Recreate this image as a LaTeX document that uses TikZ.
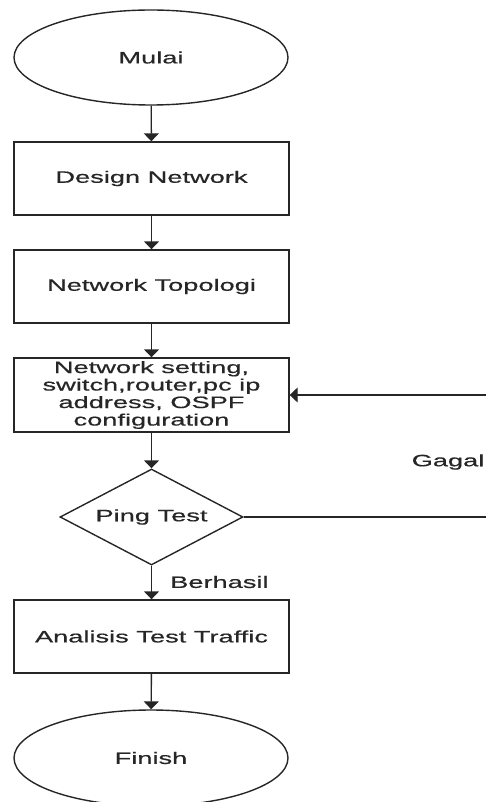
\documentclass[tikz,border=0pt]{standalone}
\usepackage{fontspec}
\setmainfont[FakeStretch=1.65,FakeBold=0.6]{Liberation Sans}
\usetikzlibrary{shapes.geometric,arrows.meta}
\begin{document}
\begin{tikzpicture}[x=1pt,y=1pt,
  base/.style={draw=black!85, line width=1.4pt, text=black!85, font=\fontsize{16.5}{17.5}\selectfont, inner sep=0pt, align=center},
  term/.style={base, ellipse, minimum width=274pt, minimum height=95pt},
  proc/.style={base, rectangle, minimum width=275pt, minimum height=73pt},
  dec/.style={base, diamond, aspect=1.9, minimum width=183pt, minimum height=96pt},
  conn/.style={draw=black!85, line width=1.4pt, -{Triangle[width=15pt,length=8pt]}},
  lbl/.style={text=black!85, font=\fontsize{16.5}{17.5}\selectfont, inner sep=0pt}]
\useasboundingbox (0,0) rectangle (485,-802);
\node[term] (mulai) at (151,-57.5) {Mulai};
\node[proc] (design) at (151.5,-178.5) {Design Network};
\node[proc] (topo) at (151.5,-286.5) {Network Topologi};
\node[proc, minimum height=74pt] (setting) at (151.5,-395) {Network setting,\\switch,router,pc ip\\address, OSPF\\configuration};
\node[dec] (ping) at (151.5,-517) {Ping Test};
\node[proc] (analisis) at (151.5,-636.5) {Analisis Test Traffic};
\node[term, minimum height=96pt] (finish) at (151,-758) {Finish};
\coordinate (c1) at (500,-517);
\coordinate (c2) at (500,-395);
\node[lbl] (gagal) at (448,-462) {Gagal};
\node[lbl, anchor=west] (berhasil) at (170,-582) {Berhasil};
\draw[conn] (mulai) -- (design);
\draw[conn] (design) -- (topo);
\draw[conn] (topo) -- (setting);
\draw[conn] (setting) -- (ping);
\draw[conn] (ping) -- (analisis);
\draw[conn] (analisis) -- (finish);
\draw[conn, line width=1.1pt] (ping.east) -- (c1) -- (c2) -- (setting.east);
\end{tikzpicture}
\end{document}
